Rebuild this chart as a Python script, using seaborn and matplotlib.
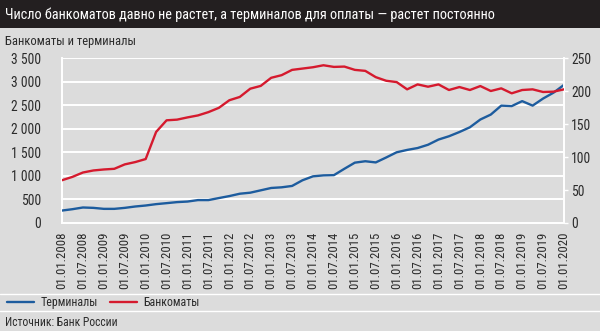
import matplotlib
matplotlib.use("Agg")
import matplotlib.pyplot as plt
import seaborn as sns
import pandas as pd
from matplotlib import font_manager
from matplotlib.lines import Line2D
from matplotlib.patches import Rectangle
from matplotlib.ticker import FuncFormatter

# ---------------- data ----------------
quarters = [
    "01.01.2008", "01.04.2008", "01.07.2008", "01.10.2008",
    "01.01.2009", "01.04.2009", "01.07.2009", "01.10.2009",
    "01.01.2010", "01.04.2010", "01.07.2010", "01.10.2010",
    "01.01.2011", "01.04.2011", "01.07.2011", "01.10.2011",
    "01.01.2012", "01.04.2012", "01.07.2012", "01.10.2012",
    "01.01.2013", "01.04.2013", "01.07.2013", "01.10.2013",
    "01.01.2014", "01.04.2014", "01.07.2014", "01.10.2014",
    "01.01.2015", "01.04.2015", "01.07.2015", "01.10.2015",
    "01.01.2016", "01.04.2016", "01.07.2016", "01.10.2016",
    "01.01.2017", "01.04.2017", "01.07.2017", "01.10.2017",
    "01.01.2018", "01.04.2018", "01.07.2018", "01.10.2018",
    "01.01.2019", "01.04.2019", "01.07.2019", "01.10.2019",
    "01.01.2020",
]
# terminals, thousand units (left axis)
terminals = [
    264, 293, 329, 321, 300, 300, 321, 350, 371, 400, 421, 443,
    455, 486, 486, 529, 571, 621, 643, 693, 743, 757, 786, 907,
    990, 1010, 1015, 1150, 1280, 1310, 1285, 1390, 1500, 1550, 1590, 1660,
    1770, 1840, 1930, 2030, 2195, 2300, 2490, 2480, 2585, 2490, 2640, 2765,
    2930,
]
# ATMs, thousand units (right axis)
atms = [
    64.8, 69.9, 76.5, 79.6, 81.1, 82.1, 88.8, 92.3, 96.9, 138.0, 155.6, 156.6,
    160.0, 163.0, 168.0, 174.5, 186.0, 191.0, 203.5, 207.7, 220.0, 224.0, 232.0, 234.0,
    236.0, 239.0, 236.5, 237.0, 232.0, 230.5, 221.0, 215.5, 213.5, 202.5, 210.0, 206.5,
    210.0, 201.5, 206.0, 201.5, 207.5, 200.0, 204.0, 196.5, 201.5, 202.5, 198.5, 199.0,
    202.5,
]
tick_labels = quarters[::2]
left_ticks = [0, 500, 1000, 1500, 2000, 2500, 3000, 3500]
right_ticks = [0, 50, 100, 150, 200, 250]

title = "Число банкоматов давно не растет, а терминалов для оплаты — растет постоянно"
subtitle = "Банкоматы и терминалы"
source = "Источник: Банк России"
series_names = ["Терминалы", "Банкоматы"]

# ---------------- style ----------------
BG = "#dcdcdc"
DARK = "#231f20"
TXT = "#2b2b2b"
BLUE = "#1d5c9e"
RED = "#d51a2e"

sns.set_style("white")
avail = {f.name for f in font_manager.fontManager.ttflist}
STRETCH = "normal"
if "Liberation Sans Narrow" in avail:
    FAM = ["Liberation Sans Narrow", "DejaVu Sans"]
elif "Roboto Condensed" in avail:
    FAM = ["Roboto Condensed", "DejaVu Sans"]
else:
    FAM = ["DejaVu Sans"]
    STRETCH = "condensed"
plt.rcParams["font.family"] = FAM
plt.rcParams["font.stretch"] = STRETCH

df = pd.DataFrame({"q": range(len(quarters)), "quarter": quarters,
                   "terminals": terminals, "atms": atms})

W, H = 600, 331
fig = plt.figure(figsize=(W / 100, H / 100), dpi=100, facecolor=BG)

# title bar
fig.add_artist(Rectangle((0, 1 - 28 / H), 1, 28 / H, transform=fig.transFigure,
                         facecolor=DARK, edgecolor="none", zorder=0))
t = fig.text(5 / W, 1 - 14.5 / H, title, color="white", fontsize=12,
             va="center", ha="left")
fig.canvas.draw()
w = t.get_window_extent().width
t.set_fontsize(12 * 492 / w)

fig.text(5 / W, 1 - 41 / H, subtitle, color=TXT, fontsize=9, va="center", ha="left")

L, R, T, B = 62, 564, 58, 223
ax = fig.add_axes([L / W, 1 - B / H, (R - L) / W, (B - T) / H])
ax.set_facecolor(BG)

sns.lineplot(data=df, x="q", y="terminals", ax=ax, color=BLUE, linewidth=1.7, zorder=3)
ax2 = ax.twinx()
sns.lineplot(data=df, x="q", y="atms", ax=ax2, color=RED, linewidth=1.7, zorder=3)

ax.set_xlim(0, len(quarters) - 1)
ax.set_ylim(0, 3500)
ax2.set_ylim(0, 250)
ax.set_yticks(left_ticks)
ax2.set_yticks(right_ticks)
ax.yaxis.set_major_formatter(FuncFormatter(lambda v, p: f"{int(v):,}".replace(",", " ")))
ax.set_xticks(range(0, len(quarters), 2))
ax.set_xticklabels(tick_labels, rotation=90)

ax.set_xlabel("")
ax.set_ylabel("")
ax2.set_ylabel("")
ax.grid(axis="y", color="white", linewidth=1.4)
ax.grid(axis="x", visible=False)
ax2.grid(False)
ax.set_axisbelow(True)

for a in (ax, ax2):
    for s in a.spines.values():
        s.set_visible(False)
ax.spines["left"].set_visible(True)
ax.spines["left"].set_color("white")
ax.spines["left"].set_linewidth(1.4)
ax.spines["bottom"].set_visible(True)
ax.spines["bottom"].set_color("white")
ax.spines["bottom"].set_linewidth(1.4)
ax2.spines["right"].set_visible(True)
ax2.spines["right"].set_color("white")
ax2.spines["right"].set_linewidth(1.4)

ax.tick_params(axis="y", length=0, pad=15, labelsize=9.8, labelcolor=TXT)
ax.tick_params(axis="x", length=3, width=1, color="white", pad=3, labelsize=9.2,
               labelcolor=TXT, direction="out")
ax2.tick_params(axis="y", length=3, width=1, color="white", pad=2, labelsize=9.8,
                labelcolor=TXT, direction="out")

# separators
fig.add_artist(Line2D([0, 1], [1 - 294 / H, 1 - 294 / H], transform=fig.transFigure,
                      color="white", linewidth=1))
fig.add_artist(Line2D([0, 1], [1 - 311 / H, 1 - 311 / H], transform=fig.transFigure,
                      color="white", linewidth=1))

handles = [Line2D([], [], color=BLUE, linewidth=1.7),
           Line2D([], [], color=RED, linewidth=1.7)]
fig.legend(handles, series_names, loc="center left", bbox_to_anchor=(7 / W, 1 - 302.5 / H),
           frameon=False, ncol=2, fontsize=8.6, handlelength=2.3, handletextpad=0.5,
           columnspacing=1.0, labelcolor=TXT, borderaxespad=0, borderpad=0)

fig.text(5 / W, 1 - 323 / H, source, color=TXT, fontsize=8.4, va="center", ha="left")

fig.savefig("out.png", dpi=100, facecolor=BG)
